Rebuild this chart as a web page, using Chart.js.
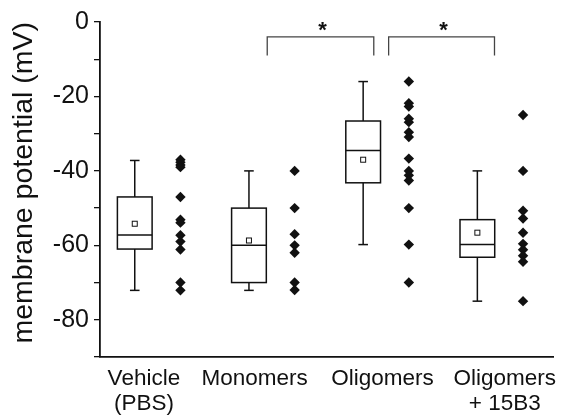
<!DOCTYPE html>
<html>
<head>
<meta charset="utf-8">
<script src="https://cdn.jsdelivr.net/npm/chart.js@4/dist/chart.umd.min.js"></script>
<style>
  html, body { margin: 0; padding: 0; background: #fff; }
</style>
</head>
<body>
<canvas id="c" width="566" height="417"></canvas>
<script>
// groups and where their names sit under the axis
const groups = [["Vehicle", "(PBS)"], ["Monomers"], ["Oligomers"], ["Oligomers", "+ 15B3"]];
const labelPos = [1.08, 2.05, 3.17, 4.24];

// box statistics (mV)
const whiskerHigh = [-37.2, -40, -16, -40];
const q3 = [-47, -50, -26.6, -53.1];
const median = [-57.2, -60, -34.5, -59.8];
const q1 = [-61, -70, -43.2, -63.2];
const whiskerLow = [-72.1, -72.1, -59.8, -75];
const means = [-54.2, -58.7, -37, -56.6];

// individual cells
const vehiclePts = [-37, -37.7, -38.4, -39, -47, -53.1, -53.9, -57.3, -59, -61.1, -70, -72.1];
const monomerPts = [-40, -50, -57, -60, -62, -70, -72];
const oligomerPts = [-16, -21.8, -22.7, -26, -26.9, -29.6, -30.9, -36.7, -40, -41.2, -42.6, -50, -59.8, -70];
const rescuePts = [-25, -40, -50.7, -52.8, -56.6, -59.6, -61.2, -62.8, -64.4, -75];

// significance brackets
const bracketEnds = [[2.16, 3.093], [3.223, 4.15]];
const bracketTop = -4;
const bracketLeg = -9;
const starY = -1.3;

const allPts = [vehiclePts, monomerPts, oligomerPts, rescuePts];
const ptOffset = 0.4;

const pointSets = allPts.map((arr, i) => ({
  type: "scatter",
  data: arr.map(v => ({ x: i + 1 + ptOffset, y: v })),
  pointStyle: "rectRot",
  pointRadius: 5.2,
  backgroundColor: "#111",
  borderWidth: 0
}));

const bracketSets = bracketEnds.map(b => ({
  type: "line",
  data: [
    { x: b[0], y: bracketLeg },
    { x: b[0], y: bracketTop },
    { x: b[1], y: bracketTop },
    { x: b[1], y: bracketLeg }
  ],
  borderColor: "#444",
  borderWidth: 1.3,
  pointRadius: 0,
  fill: false,
  tension: 0
}));

const boxPlugin = {
  id: "boxes",
  afterDatasetsDraw(chart) {
    const { ctx, scales: { x, y } } = chart;
    const line = (x1, y1, x2, y2) => {
      ctx.beginPath(); ctx.moveTo(x1, y1); ctx.lineTo(x2, y2); ctx.stroke();
    };
    ctx.save();
    ctx.strokeStyle = "#111";
    groups.forEach((g, i) => {
      const xc = x.getPixelForValue(i + 1);
      const half = x.getPixelForValue(i + 1 + 0.152) - xc;
      const cap = x.getPixelForValue(i + 1 + 0.042) - xc;
      const top = y.getPixelForValue(q3[i]);
      const bot = y.getPixelForValue(q1[i]);
      const hi = y.getPixelForValue(whiskerHigh[i]);
      const lo = y.getPixelForValue(whiskerLow[i]);
      const med = y.getPixelForValue(median[i]);
      ctx.lineWidth = 1.5;
      ctx.strokeRect(xc - half, top, half * 2, bot - top);
      line(xc - half, med, xc + half, med);
      line(xc, top, xc, hi);
      line(xc - cap, hi, xc + cap, hi);
      line(xc, bot, xc, lo);
      line(xc - cap, lo, xc + cap, lo);
      const my = y.getPixelForValue(means[i]);
      ctx.lineWidth = 1;
      ctx.strokeRect(xc - 2.5, my - 2.5, 5, 5);
    });
    ctx.fillStyle = "#111";
    ctx.font = "bold 22px 'Liberation Sans', Arial, sans-serif";
    ctx.textAlign = "center";
    ctx.textBaseline = "middle";
    bracketEnds.forEach(b => {
      ctx.fillText("*", x.getPixelForValue((b[0] + b[1]) / 2) + 2, y.getPixelForValue(starY) + 4);
    });
    ctx.restore();
  }
};

const ctx = document.getElementById("c").getContext("2d");
const chart = new Chart(ctx, {
  data: { datasets: [...pointSets, ...bracketSets] },
  options: {
    responsive: false,
    animation: false,
    layout: { padding: { top: 22, right: 9, left: 0, bottom: 0 } },
    plugins: { legend: { display: false }, tooltip: { enabled: false } },
    scales: {
      x: {
        type: "linear",
        min: 0.6957,
        max: 4.667,
        grid: { display: false, drawTicks: false },
        border: { display: true, color: "#111", width: 1.8 },
        afterBuildTicks: s => { s.ticks = labelPos.map(v => ({ value: v })); },
        afterFit: s => { s.height = 60; },
        ticks: {
          autoSkip: false,
          maxRotation: 0,
          padding: 9,
          color: "#111",
          font: { family: "'Liberation Sans', Arial, sans-serif", size: 22.5, lineHeight: 1.12 },
          callback: (v, idx) => groups[idx]
        }
      },
      y: {
        min: -90,
        max: 0,
        grid: { display: true, drawOnChartArea: false, drawTicks: true, tickLength: 6, color: "#111", lineWidth: 1.3 },
        border: { display: true, color: "#111", width: 1.8 },
        afterFit: s => { s.width = 100; },
        ticks: {
          stepSize: 10,
          padding: 5,
          color: "#111",
          font: { family: "'Liberation Sans', Arial, sans-serif", size: 25 },
          callback: v => (v % 20 === 0 ? String(v) : "")
        },
        title: {
          display: true,
          text: "membrane potential (mV)",
          align: "end",
          color: "#111",
          padding: { top: 7, bottom: 0 },
          font: { family: "'Liberation Sans', Arial, sans-serif", size: 28.5 }
        }
      }
    }
  },
  plugins: [boxPlugin]
});
</script>
</body>
</html>
